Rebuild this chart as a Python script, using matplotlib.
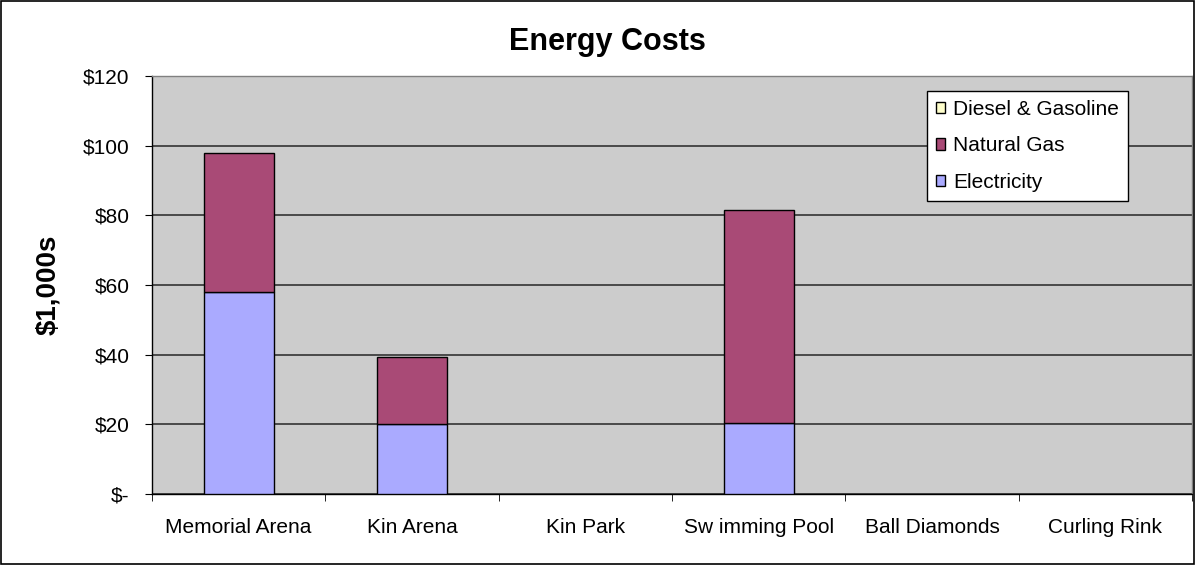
import matplotlib.pyplot as plt
import numpy as np
from matplotlib.patches import Rectangle

plt.rcParams['font.family'] = ['Liberation Sans', 'DejaVu Sans']

sites = ['Memorial Arena', 'Kin Arena', 'Kin Park', 'Sw imming Pool', 'Ball Diamonds', 'Curling Rink']
electricity = [58, 20.2, 0, 20.3, 0, 0]
natural_gas = [40, 19, 0, 61.2, 0, 0]
diesel = [0, 0, 0, 0, 0, 0]
yticks = [0, 20, 40, 60, 80, 100, 120]
ytick_labels = ['$-', '$20', '$40', '$60', '$80', '$100', '$120']

fig = plt.figure(figsize=(11.96, 5.65), dpi=100)
ax = fig.add_axes([152/1196, 1 - 494/565, 1040/1196, 418/565])
ax.set_facecolor('#CCCCCC')

x = np.arange(len(sites))
w = 0.405
elec = np.array(electricity)
gas = np.array(natural_gas)
b1 = ax.bar(x, elec, w, color='#AAAAFF', edgecolor='black', linewidth=1, zorder=3)
b2 = ax.bar(x, gas, w, bottom=elec, color='#A94A76', edgecolor='black', linewidth=1, zorder=3)
b3 = ax.bar(x, diesel, w, bottom=elec + gas, color='#FFFFCC', edgecolor='black', linewidth=1, zorder=3)
# hide zero-height bars
for bars, vals in ((b1, electricity), (b2, natural_gas), (b3, diesel)):
    for r, v in zip(bars, vals):
        if v == 0:
            r.set_visible(False)

ax.set_xlim(-0.5, len(sites) - 0.5)
ax.set_ylim(0, 120)
ax.set_yticks(yticks)
ax.set_yticklabels(ytick_labels, fontsize=15)
ax.yaxis.grid(True, color='#333333', linewidth=1.2, zorder=1)
ax.set_axisbelow(True)

ax.set_xticks(x)
ax.set_xticklabels(sites, fontsize=15)
ax.set_xticks(np.arange(len(sites) + 1) - 0.5, minor=True)
ax.tick_params(axis='x', which='major', length=0, pad=17)
ax.tick_params(axis='x', which='minor', length=5, direction='out', color='black')
ax.tick_params(axis='y', length=5, direction='out', color='black', pad=11)

for s in ['top', 'right']:
    ax.spines[s].set_color('#808080')
    ax.spines[s].set_linewidth(1)
for s in ['left', 'bottom']:
    ax.spines[s].set_color('black')
    ax.spines[s].set_linewidth(1)

ax.set_ylabel('$1,000s', fontsize=20, fontweight='bold', labelpad=16)
fig.text(607/1196, 1 - 42/565, 'Energy Costs', fontsize=22, fontweight='bold',
         ha='center', va='center')

handles = [Rectangle((0, 0), 1, 1, facecolor=c, edgecolor='black', linewidth=1)
           for c in ['#FFFFCC', '#A94A76', '#AAAAFF']]
leg = ax.legend(handles, ['Diesel & Gasoline', 'Natural Gas', 'Electricity'],
                loc='upper left', bbox_to_anchor=((927 - 152) / 1040, 1 - (91 - 76) / 418),
                fontsize=15, frameon=True, fancybox=False, framealpha=1,
                edgecolor='black', handlelength=0.45, handleheight=0.45,
                handletextpad=0.4, labelspacing=0.85, borderpad=0.42,
                borderaxespad=0)
leg.get_frame().set_linewidth(1)
leg.set_zorder(5)

fig.patches.append(Rectangle((0.001, 0.001), 0.997, 0.997, transform=fig.transFigure,
                             fill=False, edgecolor='black', linewidth=1.2))

fig.savefig('out.png', dpi=100, facecolor='white')
